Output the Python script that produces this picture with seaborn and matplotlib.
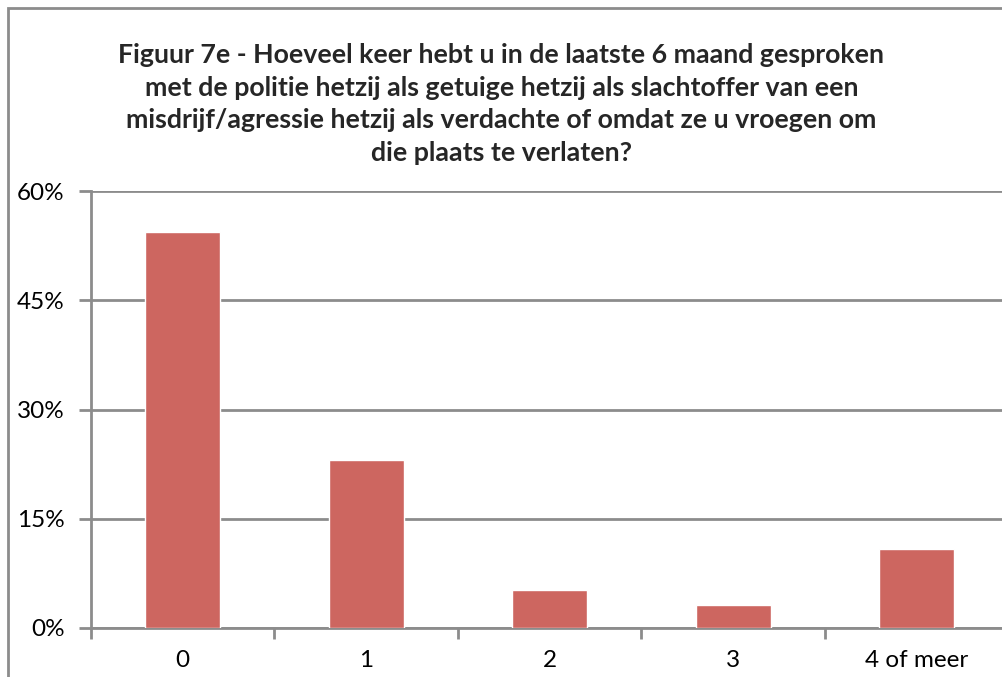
import numpy as np
import matplotlib.pyplot as plt
import pandas as pd
import seaborn as sns
from matplotlib.patches import Rectangle
from matplotlib.ticker import FixedLocator, PercentFormatter

sns.set_theme(style='white')
plt.rcParams['font.family'] = ['Lato', 'DejaVu Sans']

# data
categories = ['0', '1', '2', '3', '4 of meer']
percentages = [54.4, 23.1, 5.2, 3.1, 10.8]
y_ticks = [0, 15, 30, 45, 60]
title = ('Figuur 7e - Hoeveel keer hebt u in de laatste 6 maand gesproken\n'
         'met de politie hetzij als getuige hetzij als slachtoffer van een\n'
         'misdrijf/agressie hetzij als verdachte of omdat ze u vroegen om\n'
         'die plaats te verlaten?')

df = pd.DataFrame({'categorie': categories, 'pct': percentages})

fig = plt.figure(figsize=(10.03, 6.77), dpi=100)
ax = fig.add_axes([91/1003, 49/677, 917.5/1003, 437/677])

grey = '#8c8c8c'
sns.barplot(data=df, x='categorie', y='pct', color='#CD6660', saturation=1,
            width=0.41, ax=ax, zorder=3)

ax.set_xlim(-0.5, 4.5)
ax.set_ylim(0, 60)
ax.set_yticks(y_ticks)
ax.yaxis.set_major_formatter(PercentFormatter(decimals=0))
ax.yaxis.grid(True, color=grey, linewidth=2, zorder=0)
ax.set_axisbelow(True)

ax.xaxis.set_minor_locator(FixedLocator(np.arange(-0.5, 5.0, 1.0)))
ax.tick_params(axis='x', which='major', length=0, pad=16, labelsize=17.5, colors='black')
ax.tick_params(axis='x', which='minor', length=8, width=2, color=grey, bottom=True)
ax.tick_params(axis='y', which='major', length=9, width=2, color=grey, left=True,
               pad=10, labelsize=17.5, labelcolor='black')

for side in ['top', 'right']:
    ax.spines[side].set_visible(False)
for side in ['left', 'bottom']:
    ax.spines[side].set_color(grey)
    ax.spines[side].set_linewidth(2)

ax.set_xlabel('')
ax.set_ylabel('')

fig.text(0.5, 1 - 104/677, title, ha='center', va='center', fontsize=19.3,
         fontweight='bold', linespacing=1.42)

fig.patches.append(Rectangle((8/1003, -0.1), 1.2, 1 - 8/677 + 0.1, transform=fig.transFigure,
                             fill=False, edgecolor=grey, linewidth=2))

fig.savefig('out.png', dpi=100, facecolor='white')
